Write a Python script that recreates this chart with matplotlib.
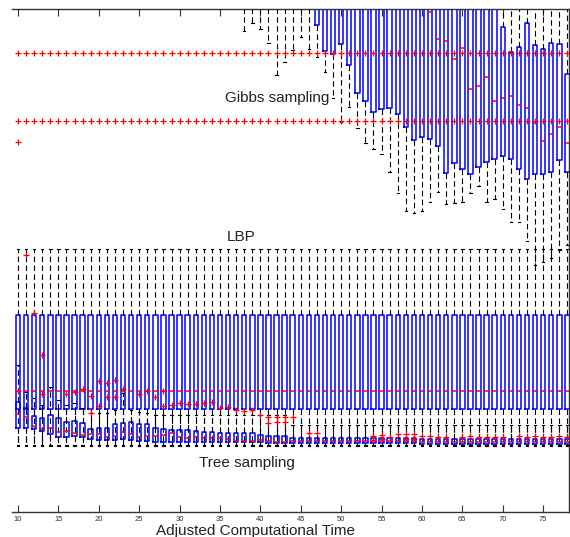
import matplotlib
matplotlib.use("Agg")
import matplotlib.pyplot as plt

plt.rcParams['font.family'] = ['Liberation Sans', 'DejaVu Sans']

# ---------------- data (arbitrary vertical units, axis spans 0..503) ----------------
times = list(range(10, 79))
tick_values = [10, 15, 20, 25, 30, 35, 40, 45, 50, 55, 60, 65, 70, 75]
tick_labels = [str(v) for v in tick_values]

# LBP: identical box in every column
lbp_q1, lbp_med, lbp_q3, lbp_lo, lbp_hi = 103, 121, 197, 67, 263
lbp_outlier_rows = [459, 391]
lbp_extra_outliers = {10: [370], 11: [257], 12: [199]}

# Gibbs sampling (values above 503 lie above the visible window)
gibbs_q1 = [530] * 37 + [487, 461, 458, 468, 447, 419, 411, 400, 403, 404, 398, 385, 372, 375,
                         373, 366, 339, 349, 343, 338, 345, 350, 353, 356, 353, 343, 333, 338,
                         338, 340, 352, 340]
gibbs_med = [560] * 37 + [520] * 14 + [500, 473, 471, 453, 464, 423, 426, 435, 411, 414, 416,
                                       407, 404, 389, 371, 378, 385, 369]
gibbs_q3 = [590] * 60 + [485, 460, 465, 489, 467, 463, 469, 468, 438]
gibbs_lo = [515] * 28 + [481, 489, 483, 469, 437, 450, 462, 475, 463,
                         455, 440, 414, 390, 405, 384, 369, 363, 358, 340, 319, 301, 299, 301,
                         310, 320, 308, 309, 310, 319, 326, 310, 313, 303, 290, 290, 271, 247,
                         250, 254, 262, 267]
gibbs_hi = [620] * 69

# Tree sampling
tree_q3 = [110, 104, 96, 94, 97, 94, 90, 91, 89, 83, 84, 84, 88, 89, 90, 88, 88, 84, 83, 82,
           82, 82, 81, 80, 80, 79, 79, 79, 79, 79, 77, 76, 76, 76] + [74] * 16 + [73] * 19
tree_med = [98, 95, 86, 83, 84, 80, 81, 79, 77, 78, 78, 75, 76, 80, 78, 75, 76, 76, 77, 79,
            75, 74, 75, 74, 74, 74, 73, 71, 71, 71, 72, 71, 70, 70] + [71] * 16 + [70] * 19
tree_q1 = [84, 84, 83, 81, 78, 75, 75, 76, 75, 73, 72, 72, 72, 73, 72, 71, 71, 70, 70, 70,
           70, 70, 70, 70, 70, 70, 70, 70, 70, 70, 70, 69, 69, 69] + [69] * 16 + [68] * 19
tree_hi = [147, 120, 114, 107, 125, 112, 107, 109, 104, 99, 99, 99, 102, 119, 102, 100, 99] \
    + [97] * 17 + [87] * 35
tree_lo = [66] * 69
tree_outliers = {
    10: [121], 13: [157, 118], 16: [118], 17: [120], 18: [123], 19: [116, 99],
    20: [131, 106], 21: [129, 115], 22: [132, 115], 23: [123], 25: [118], 26: [121],
    27: [115], 28: [121, 106], 29: [107], 30: [109], 31: [108], 32: [108], 33: [109],
    34: [110], 35: [104], 36: [105], 37: [102], 38: [101], 39: [102], 40: [97],
    41: [95, 89], 42: [95, 90], 43: [95, 90], 44: [95], 46: [79], 47: [79],
    54: [76, 72], 55: [77, 73], 56: [75], 57: [78], 58: [78, 73], 59: [78, 73],
    60: [76], 61: [76], 62: [75], 63: [75], 65: [75], 66: [76], 67: [75], 68: [75],
    69: [75], 70: [75], 72: [76], 73: [75], 74: [76], 75: [75], 76: [75], 77: [76], 78: [75],
}

# ---------------- figure ----------------
W, H = 570, 537
fig = plt.figure(figsize=(W / 100, H / 100), dpi=100)
ax = fig.add_axes([12 / W, 1 - 512 / H, (568.7 - 12) / W, (512 - 9) / H])

common = dict(
    positions=times, widths=0.55, capwidths=0.3, manage_ticks=False,
    boxprops=dict(color='#0000ff', lw=1.1),
    medianprops=dict(color='#ff0000', lw=1.1),
    whiskerprops=dict(color='black', lw=0.8, linestyle=(0, (5, 3))),
    capprops=dict(color='black', lw=0.8),
    flierprops=dict(marker='+', markeredgecolor='#ff0000', markersize=4.5, mew=0.9,
                    linestyle='none'),
)

lbp_stats = []
for t in times:
    fl = list(lbp_outlier_rows) + lbp_extra_outliers.get(t, [])
    lbp_stats.append(dict(q1=lbp_q1, med=lbp_med, q3=lbp_q3, whislo=lbp_lo, whishi=lbp_hi,
                          fliers=fl))
gibbs_stats = []
for i, t in enumerate(times):
    gibbs_stats.append(dict(q1=gibbs_q1[i], med=gibbs_med[i], q3=gibbs_q3[i],
                            whislo=gibbs_lo[i], whishi=gibbs_hi[i], fliers=[]))
tree_stats = []
for i, t in enumerate(times):
    tree_stats.append(dict(q1=tree_q1[i], med=tree_med[i], q3=tree_q3[i],
                           whislo=tree_lo[i], whishi=tree_hi[i],
                           fliers=tree_outliers.get(t, [])))

for st in (lbp_stats, gibbs_stats, tree_stats):
    res = ax.bxp(st, **common)
    for f in res['fliers']:
        f.set_zorder(4)

ax.set_xlim(9.257, 78.16)
ax.set_ylim(0, 503)
ax.set_yticks([])
ax.set_xticks(tick_values)
ax.set_xticklabels(tick_labels)
ax.tick_params(axis='x', direction='in', length=5, width=0.8, top=True, labelsize=5.5,
               pad=3, labelcolor='#333333', color='#333333')
ax.spines['left'].set_visible(False)
for s in ('top', 'right', 'bottom'):
    ax.spines[s].set_linewidth(1.0)
    ax.spines[s].set_color('#333333')

txt = dict(fontsize=11, color='#222222', ha='left', va='center')
ax.text(35.6, 414, 'Gibbs sampling', **txt)
ax.text(35.87, 275, 'LBP', **txt)
ax.text(32.4, 49, 'Tree sampling', **txt)

fig.text(256 / W, 1.5 / H, 'Adjusted Computational Time', fontsize=11, color='#222222',
         ha='center', va='baseline')

fig.savefig('out.png', dpi=100)
